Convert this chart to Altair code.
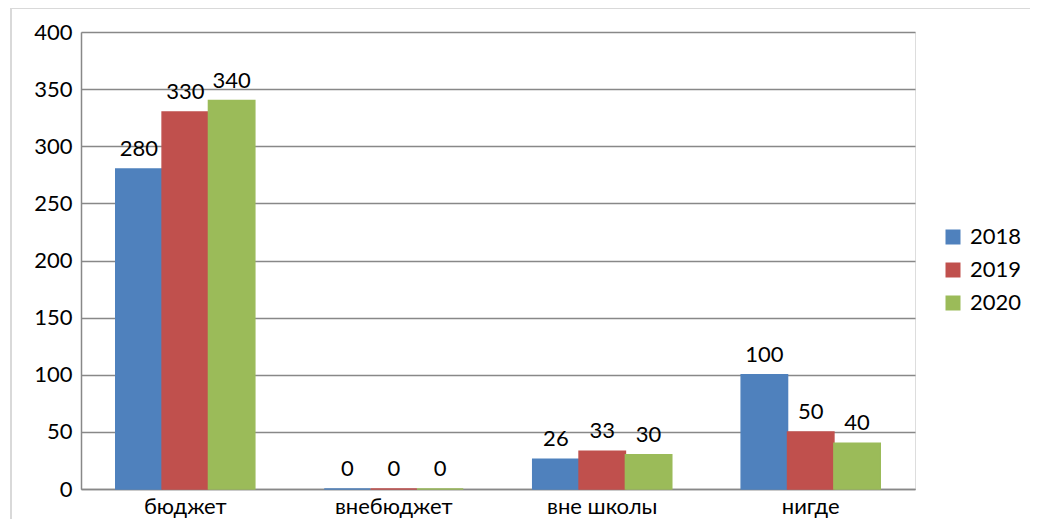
import altair as alt
import pandas as pd

categories = ["бюджет", "внебюджет", "вне школы", "нигде"]
years = ["2018", "2019", "2020"]
v2018 = [280, 0, 26, 100]
v2019 = [330, 0, 33, 50]
v2020 = [340, 0, 30, 40]
colors = ["#4F81BD", "#C0504D", "#9BBB59"]
y_ticks = [0, 50, 100, 150, 200, 250, 300, 350, 400]

rows = []
for yr, vals in zip(years, [v2018, v2019, v2020]):
    for c, v in zip(categories, vals):
        rows.append({"cat": c, "year": yr, "value": v})
df = pd.DataFrame(rows)

FONT = "Lato"
FS = 22

x_enc = alt.X("cat:N", sort=categories, title=None,
              scale=alt.Scale(paddingInner=0.333, paddingOuter=0.1667),
              axis=alt.Axis(labelAngle=0, labelFontSize=FS, labelColor="#000000",
                            labelFont=FONT, ticks=False, domainColor="#888888",
                            domainWidth=1.5, labelPadding=7, grid=False))
xo_enc = alt.XOffset("year:N", sort=years, scale=alt.Scale(paddingInner=0, paddingOuter=0))
y_enc = alt.Y("value:Q", title=None,
              scale=alt.Scale(domain=[0, 400], nice=False),
              axis=alt.Axis(values=y_ticks, labelFontSize=FS, labelColor="#000000",
                            labelFont=FONT, ticks=False, domainColor="#888888",
                            domainWidth=1.5, gridColor="#888888", gridWidth=1.5,
                            labelPadding=9))
color_scale = alt.Scale(domain=years, range=colors)

base = alt.Chart(df)

bars = base.mark_bar(strokeWidth=1.5).encode(
    x=x_enc, xOffset=xo_enc, y=y_enc,
    color=alt.Color("year:N", scale=color_scale, sort=years,
                    legend=alt.Legend(title=None, orient="none", legendX=861, legendY=194,
                                      symbolType="square", symbolSize=225,
                                      symbolStrokeWidth=0, labelFontSize=FS,
                                      labelFont=FONT, labelColor="#000000",
                                      rowPadding=11, labelOffset=6)),
    stroke=alt.Stroke("year:N", scale=color_scale, sort=years, legend=None),
)

labels = base.mark_text(fontSize=FS, font=FONT, color="#000000", dy=-13,
                        baseline="alphabetic").encode(
    x=alt.X("cat:N", sort=categories), xOffset=alt.XOffset("year:N", sort=years),
    y=alt.Y("value:Q"), text=alt.Text("value:Q"),
)

frame = alt.Chart(pd.DataFrame({"a": [0]})).mark_rect(
    fill=None, stroke="#d9d9d9", strokeWidth=2).encode(
    x=alt.value(-70), x2=alt.value(1200), y=alt.value(-24), y2=alt.value(700))

chart = alt.layer(frame, bars, labels).properties(
    width=834, height=457,
    autosize=alt.AutoSizeParams(type="none"),
    padding={"left": 73, "top": 24, "right": 115, "bottom": 30},
).configure_view(stroke=None).configure(font=FONT)

chart.save("out.html", embed_options={"renderer": "svg", "actions": False})
